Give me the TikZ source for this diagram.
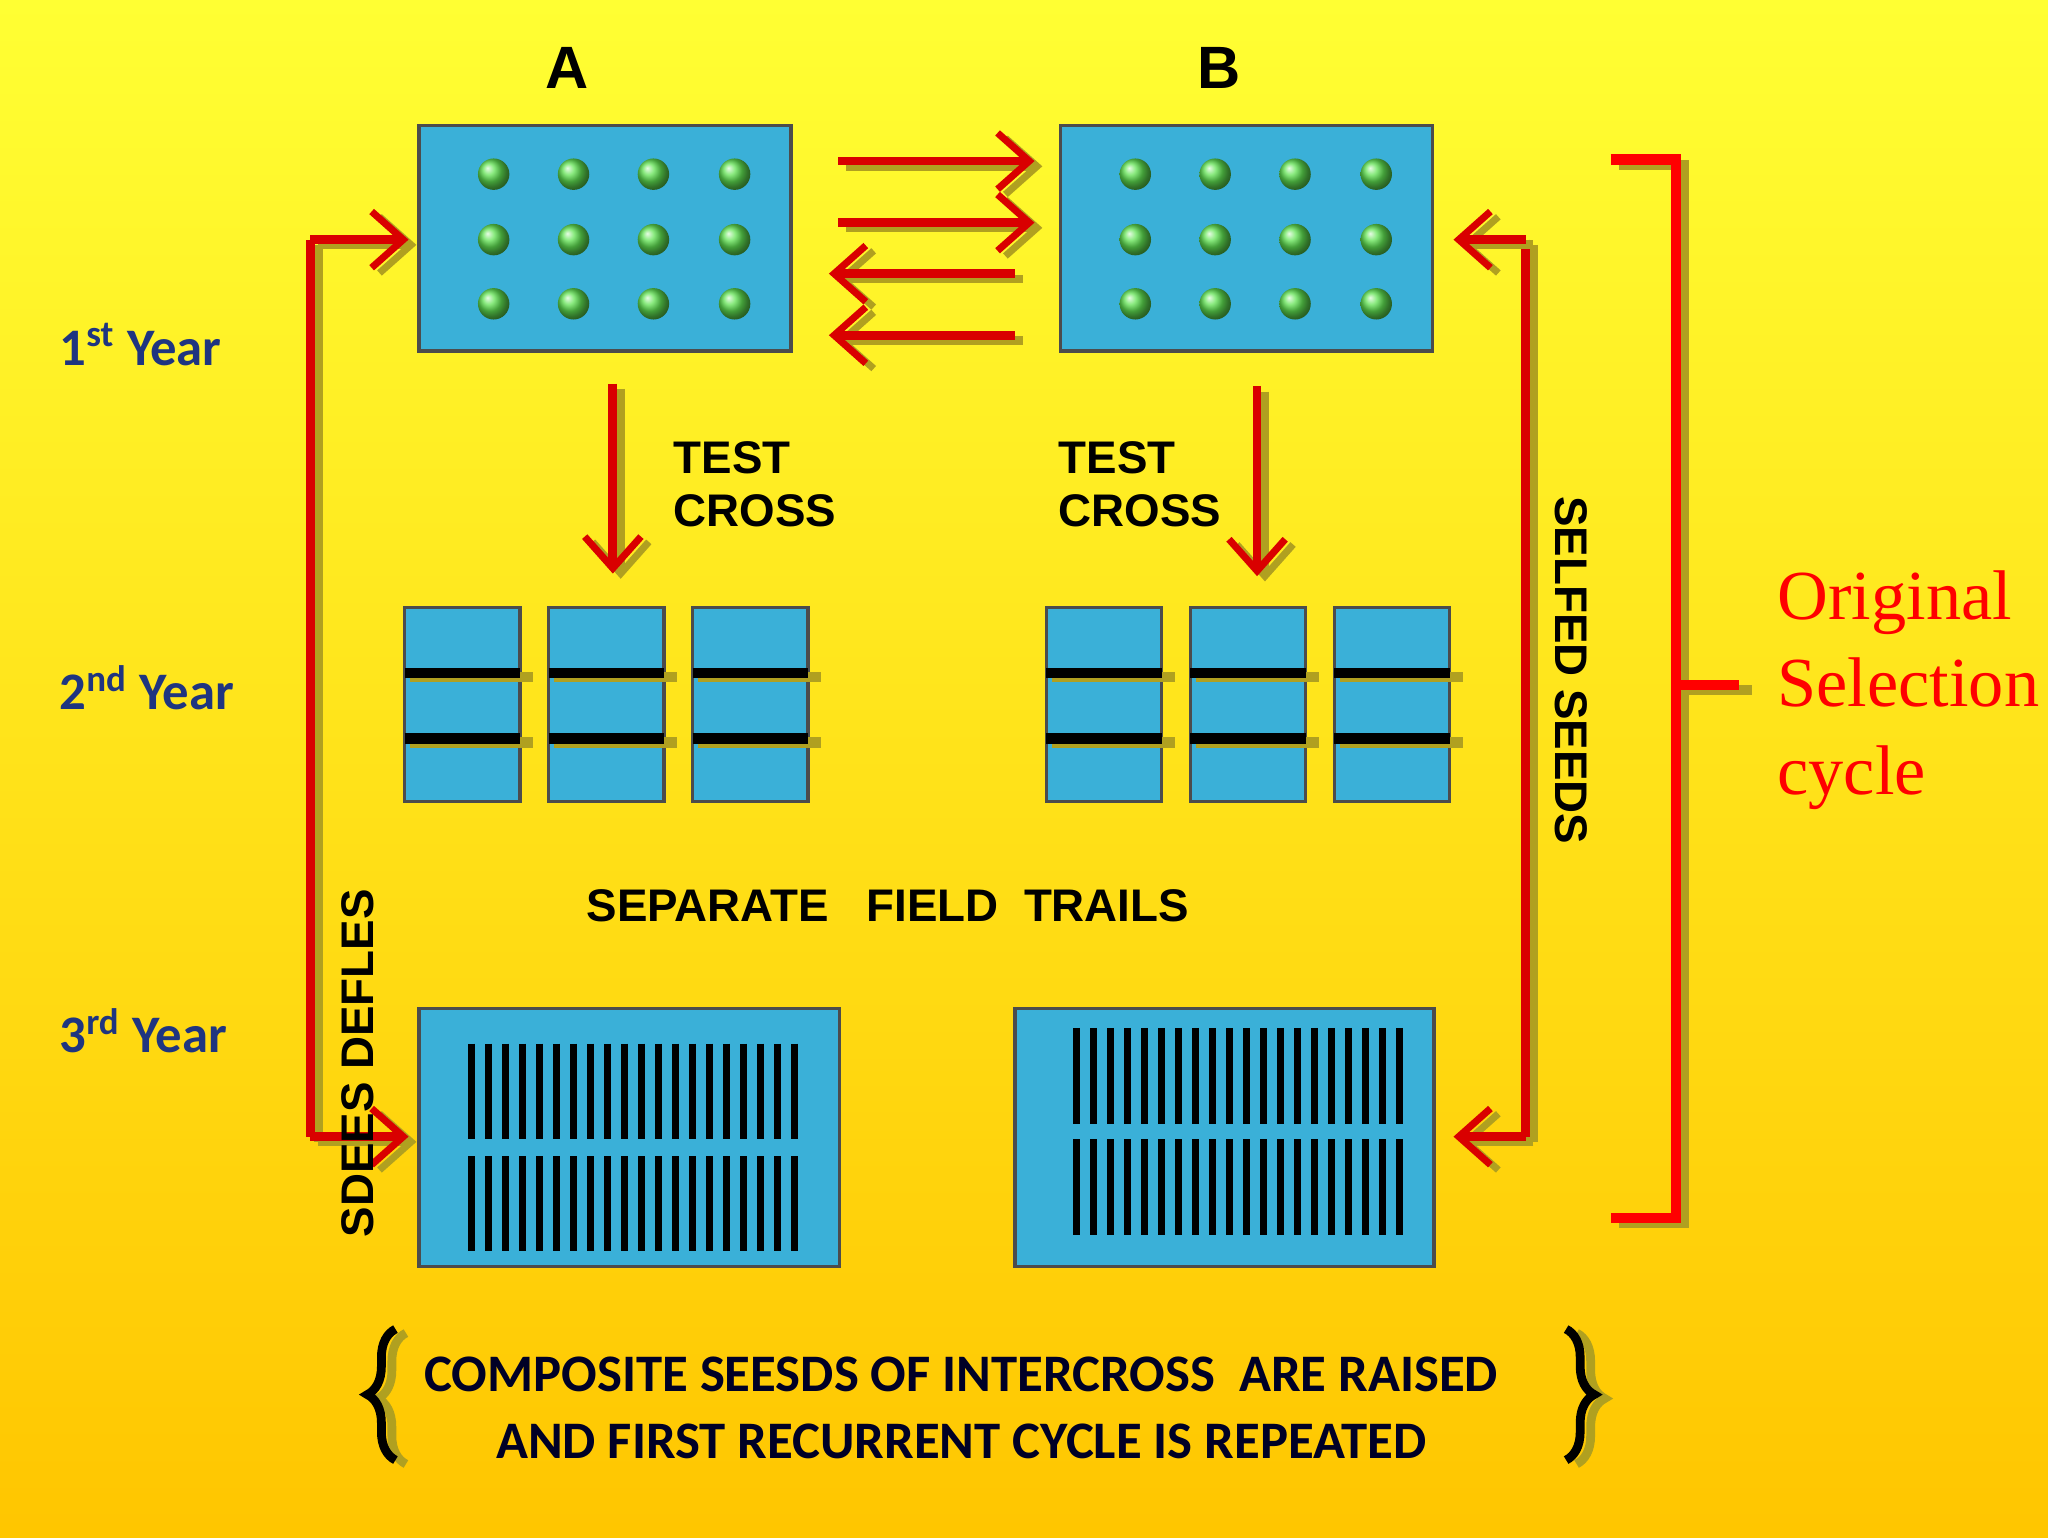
\documentclass[tikz,border=0pt]{standalone}
\usepackage{fontspec}
\setmainfont{Liberation Sans}
\newfontfamily\myCal{Carlito}
\newfontfamily\mySer{Liberation Serif}
\usetikzlibrary{arrows.meta,decorations.pathreplacing}
\definecolor{cy}{HTML}{3AB0D8}
\definecolor{gr}{HTML}{44DD33}
\definecolor{ol}{HTML}{B0A020}
\definecolor{nv}{HTML}{1F3580}
\tikzset{
 x=0.013095cm,y=-0.013095cm,
 box/.style={draw=black!70,line width=1pt,fill=cy},
 rarr/.style={draw=red!85!black,line width=2.5pt,-{Straight Barb[length=9pt,width=16pt,line width=2pt]}},
 sarr/.style={draw=ol,line width=2.5pt,-{Straight Barb[length=9pt,width=16pt,line width=2pt]}},
 lab/.style={font=\bfseries\fontsize{13}{15}\selectfont,text=black,align=left},
 yr/.style={font=\myCal\bfseries\fontsize{15}{17}\selectfont,text=nv,anchor=west},
}
\newcommand{\shArrow}[2]{\draw[sarr] ([shift={(6,4)}]#1) -- ([shift={(6,4)}]#2); \draw[rarr] (#1) -- (#2);}
\begin{document}
\begin{tikzpicture}
\useasboundingbox (0,0) rectangle (1564,1174);
\shade[top color=yellow!80!white,bottom color=orange!45!yellow] (0,0) rectangle (1564,1174);
% titles
\node[font=\bfseries\fontsize{17}{19}\selectfont] (tA) at (433,52) {A};
\node[font=\bfseries\fontsize{17}{19}\selectfont] (tB) at (931,52) {B};
% first year boxes
\draw[box] (320,96) rectangle (604,268);
\draw[box] (810,96) rectangle (1094,268);
\foreach \x in {377,438,499,561}{\foreach \y in {133,183,232}{\shade[ball color=gr!85!white] (\x,\y) circle (12);}}
\foreach \x in {867,928,989,1051}{\foreach \y in {133,183,232}{\shade[ball color=gr!85!white] (\x,\y) circle (12);}}
% cross arrows
\coordinate (r1s) at (640,123); \coordinate (r1e) at (790,123);
\coordinate (r2s) at (640,170); \coordinate (r2e) at (790,170);
\coordinate (l1s) at (775,209); \coordinate (l1e) at (633,209);
\coordinate (l2s) at (775,256); \coordinate (l2e) at (633,256);
\shArrow{r1s}{r1e}\shArrow{r2s}{r2e}\shArrow{l1s}{l1e}\shArrow{l2s}{l2e}
% test cross
\coordinate (ta1) at (468,293); \coordinate (ta2) at (468,438);
\coordinate (tb1) at (960,295); \coordinate (tb2) at (960,440);
\shArrow{ta1}{ta2}\shArrow{tb1}{tb2}
\node[lab,anchor=west] (tcA) at (505,370) {TEST\\CROSS};
\node[lab,anchor=west] (tcB) at (799,370) {TEST\\CROSS};
% second year
\foreach \x in {309,419,529,799,909,1019}{
 \draw[box] (\x,464) rectangle (\x+88,612);
 \foreach \y in {514,564}{
  \draw[ol,line width=3pt] (\x+4,\y+3) -- (\x+98,\y+3);
  \draw[black,line width=3pt] (\x,\y) -- (\x+88,\y);}
}
\node[lab] (sep) at (678,692) {SEPARATE\ \ \ FIELD\ \ TRAILS};
% third year
\draw[box] (320,770) rectangle (641,967);
\draw[box] (775,770) rectangle (1095,967);
\foreach \i in {0,...,19}{
 \draw[black,line width=2pt] (360+\i*13,797) -- (360+\i*13,870);
 \draw[black,line width=2pt] (360+\i*13,883) -- (360+\i*13,955);
 \draw[black,line width=2pt] (822+\i*13,785) -- (822+\i*13,858);
 \draw[black,line width=2pt] (822+\i*13,870) -- (822+\i*13,943);
}
% years
\node[yr] (y1) at (36,263) {1\textsuperscript{st} Year};
\node[yr] (y2) at (36,525) {2\textsuperscript{nd} Year};
\node[yr] (y3) at (36,787) {3\textsuperscript{rd} Year};
% left loop
\coordinate (lt) at (237,183); \coordinate (lb) at (237,868);
\coordinate (ltA) at (312,183); \coordinate (lbA) at (312,868);
\draw[ol,line width=2.5pt] (243,187) -- (243,872);
\draw[red!85!black,line width=2.5pt] (lt) -- (lb);
\shArrow{lt}{ltA}\shArrow{lb}{lbA}
\node[lab,rotate=90] (sd) at (273,812) {SDEES DEFLES};
% right loop
\coordinate (rt) at (1165,183); \coordinate (rb) at (1165,868);
\coordinate (rtB) at (1110,183); \coordinate (rbB) at (1110,868);
\draw[ol,line width=2.5pt] (1171,187) -- (1171,872);
\draw[red!85!black,line width=2.5pt] (rt) -- (rb);
\shArrow{rt}{rtB}\shArrow{rb}{rbB}
\node[lab,rotate=-90] (ss) at (1200,512) {SELFED SEEDS};
% bracket
\draw[ol,line width=3pt] (1236,126) -- (1286,126) -- (1286,934) -- (1236,934) (1286,527) -- (1338,527);
\draw[red,line width=3pt] (1230,122) -- (1280,122) -- (1280,930) -- (1230,930) (1280,523) -- (1328,523);
\node[font=\mySer\fontsize{20}{25}\selectfont,text=red,align=left,anchor=west] (orig) at (1348,527) {Original\\Selection\\cycle};
% bottom
\draw[ol,line width=2.5pt,decorate,decoration={brace,amplitude=8pt,mirror}] (310,1018) -- (310,1118);
\draw[black,line width=2.5pt,decorate,decoration={brace,amplitude=8pt,mirror}] (302,1015) -- (302,1115);
\draw[ol,line width=2.5pt,decorate,decoration={brace,amplitude=8pt}] (1204,1018) -- (1204,1118);
\draw[black,line width=2.5pt,decorate,decoration={brace,amplitude=8pt}] (1196,1015) -- (1196,1115);
\node[font=\myCal\bfseries\fontsize{15}{19}\selectfont,align=center,text=black!85!blue] (bt) at (734,1075) {COMPOSITE SEESDS OF INTERCROSS\ \ ARE RAISED\\AND FIRST RECURRENT CYCLE IS REPEATED};
\end{tikzpicture}
\end{document}
